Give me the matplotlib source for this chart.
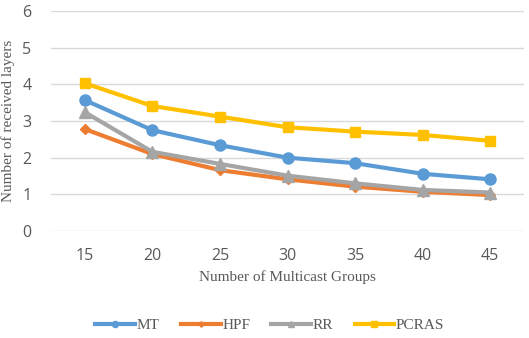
import matplotlib.pyplot as plt

groups = ["15", "20", "25", "30", "35", "40", "45"]
mt = [3.57, 2.75, 2.34, 2.00, 1.85, 1.56, 1.41]
hpf = [2.78, 2.10, 1.66, 1.41, 1.21, 1.07, 0.98]
rr = [3.24, 2.16, 1.83, 1.51, 1.30, 1.12, 1.05]
pcras = [4.03, 3.41, 3.12, 2.83, 2.71, 2.62, 2.46]

series = [
    ("MT", mt, "#5B9BD5", "o", 8),
    ("HPF", hpf, "#ED7D31", "D", 5),
    ("RR", rr, "#A5A5A5", "^", 8),
    ("PCRAS", pcras, "#FFC000", "s", 7.5),
]

fig = plt.figure(figsize=(5.29, 3.38), dpi=100)
ax = fig.add_axes([51 / 529, 1 - 231 / 338, 473 / 529, 220 / 338])

x = list(range(len(groups)))
for name, vals, col, mk, ms in series:
    ax.plot(x, vals, color=col, lw=3, marker=mk, ms=ms, label=name)

ax.set_xlim(-0.5, len(groups) - 0.5)
ax.set_ylim(0, 6)
ax.set_yticks(range(7))
ax.set_xticks(x)
ax.set_xticklabels(groups)
ax.grid(axis="y", color="#D9D9D9", lw=1)
ax.set_axisbelow(True)
for s in ax.spines.values():
    s.set_visible(False)
ax.tick_params(length=0, colors="#595959", labelsize=11.5, pad=12)
ax.tick_params(axis="y", pad=14)
for t in ax.get_xticklabels() + ax.get_yticklabels():
    t.set_family("Open Sans")

ax.set_xlabel("Number of Multicast Groups", family="Liberation Serif",
              fontsize=11, color="#595959", labelpad=5)
ax.set_ylabel("Number of received layers", family="Liberation Serif",
              fontsize=11, color="#595959", labelpad=5)

fig.legend(loc="center", bbox_to_anchor=(0.51, 1 - 325 / 338), ncol=4,
           frameon=False, prop={"family": "Liberation Serif", "size": 11},
           handlelength=2.6, columnspacing=1.4, handletextpad=0.1,
           markerscale=0.55, labelcolor="#595959")

fig.savefig("out.png", dpi=100)
